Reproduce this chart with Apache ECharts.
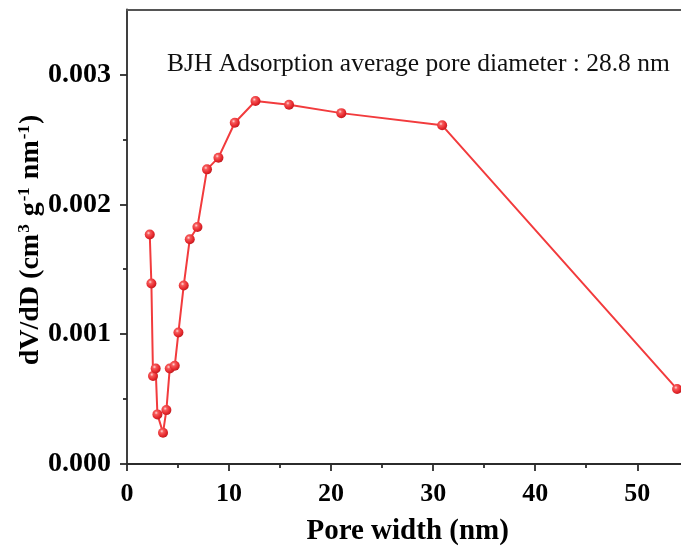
<!DOCTYPE html>
<html>
<head>
<meta charset="utf-8">
<script src="https://cdn.jsdelivr.net/npm/echarts@6/dist/echarts.min.js"></script>
<style>
  html, body { margin: 0; padding: 0; background: #fff; }
  #chart { width: 681px; height: 554px; }
</style>
</head>
<body>
<div id="chart"></div>
<script>
// BJH adsorption pore size distribution
const poreWidth = [2.23, 2.39, 2.55, 2.81, 2.98, 3.53, 3.86, 4.19, 4.68, 5.04, 5.56,
                   6.15, 6.90, 7.84, 8.96, 10.56, 12.59, 15.88, 21.0, 30.88, 53.9];
const dVdD = [0.001767, 0.00139, 0.000677, 0.000736, 0.000382, 0.000241, 0.000415,
              0.000736, 0.000756, 0.001013, 0.001375, 0.001731, 0.001825, 0.002269,
              0.002359, 0.002628, 0.002795, 0.002767, 0.002702, 0.002608, 0.000577];

const xMajorTicks = [0, 10, 20, 30, 40, 50];
const xMinorTicks = [5, 15, 25, 35, 45];
const yMajorTicks = [0, 0.001, 0.002, 0.003];
const yMinorTicks = [0.0005, 0.0015, 0.0025];

const annotation = 'BJH Adsorption average pore diameter : 28.8 nm';
const xTitle = 'Pore width (nm)';

const serif = '"Liberation Serif", "Times New Roman", serif';
const axisColor = '#2b2b2b';

const chart = echarts.init(document.getElementById('chart'), null, { renderer: 'canvas' });

const points = poreWidth.map((x, i) => [x, dVdD[i]]);

// shaded ball marker
const sphere = new echarts.graphic.RadialGradient(0.38, 0.35, 0.7, [
  { offset: 0, color: '#ffd9d9' },
  { offset: 0.25, color: '#f65a5a' },
  { offset: 0.7, color: '#e5262b' },
  { offset: 1, color: '#b81a1f' }
]);

chart.setOption({
  animation: false,
  backgroundColor: '#fff',
  grid: {
    left: 127,
    top: 9.5,
    bottom: 90,
    right: -7.3,
    outerBoundsMode: 'none',
    containLabel: false
  },
  xAxis: [
    {
      type: 'value', min: 0, max: 55, position: 'bottom',
      axisLine: { show: true, onZero: false, lineStyle: { color: axisColor, width: 1.8 } },
      axisTick: { show: true, inside: false, length: 7, customValues: xMajorTicks,
                  lineStyle: { color: axisColor, width: 1.8 } },
      axisLabel: { show: true, customValues: xMajorTicks, margin: 17,
                   fontFamily: serif, fontWeight: 'bold', fontSize: 26, color: '#000' },
      splitLine: { show: false },
      name: xTitle, nameLocation: 'middle', nameGap: 53,
      nameTextStyle: { fontFamily: serif, fontWeight: 'bold', fontSize: 29, color: '#000' }
    },
    {
      type: 'value', min: 0, max: 55, position: 'bottom',
      axisLine: { show: false, onZero: false },
      axisTick: { show: true, inside: false, length: 4, customValues: xMinorTicks,
                  lineStyle: { color: axisColor, width: 1.8 } },
      axisLabel: { show: false },
      splitLine: { show: false }
    },
    {
      type: 'value', min: 0, max: 55, position: 'top',
      axisLine: { show: true, onZero: false, lineStyle: { color: '#555', width: 1.8 } },
      axisTick: { show: false },
      axisLabel: { show: false },
      splitLine: { show: false }
    }
  ],
  yAxis: [
    {
      type: 'value', min: 0, max: 0.0035, position: 'left',
      axisLine: { show: true, onZero: false, lineStyle: { color: axisColor, width: 1.8 } },
      axisTick: { show: true, inside: false, length: 7, customValues: yMajorTicks,
                  lineStyle: { color: axisColor, width: 1.8 } },
      axisLabel: { show: true, customValues: yMajorTicks, margin: 16,
                   formatter: v => v.toFixed(3),
                   fontFamily: serif, fontWeight: 'bold', fontSize: 28, color: '#000' },
      splitLine: { show: false }
    },
    {
      type: 'value', min: 0, max: 0.0035, position: 'left',
      axisLine: { show: false, onZero: false },
      axisTick: { show: true, inside: false, length: 4, customValues: yMinorTicks,
                  lineStyle: { color: axisColor, width: 1.8 } },
      axisLabel: { show: false },
      splitLine: { show: false }
    }
  ],
  series: [
    {
      type: 'line',
      xAxisIndex: 0,
      yAxisIndex: 0,
      data: points,
      symbol: 'circle',
      symbolSize: 10,
      showAllSymbol: true,
      lineStyle: { color: '#f23b3d', width: 2 },
      itemStyle: { color: sphere, borderWidth: 0 },
      z: 3
    }
  ],
  graphic: [
    {
      type: 'text',
      left: 167, top: 51,
      style: { text: annotation, font: '25.5px ' + serif, fill: '#111' }
    },
    {
      type: 'text',
      x: 31, y: 240,
      rotation: Math.PI / 2,
      style: {
        text: 'dV/dD (cm{sup|3} g{sup|-1} nm{sup|-1})',
        align: 'center',
        verticalAlign: 'middle',
        fill: '#000',
        font: 'bold 28px ' + serif,
        rich: {
          sup: { font: 'bold 17px ' + serif, fill: '#000', verticalAlign: 'top', lineHeight: 30, padding: [0, 1, 14, 1] }
        }
      }
    }
  ]
});
</script>
</body>
</html>
